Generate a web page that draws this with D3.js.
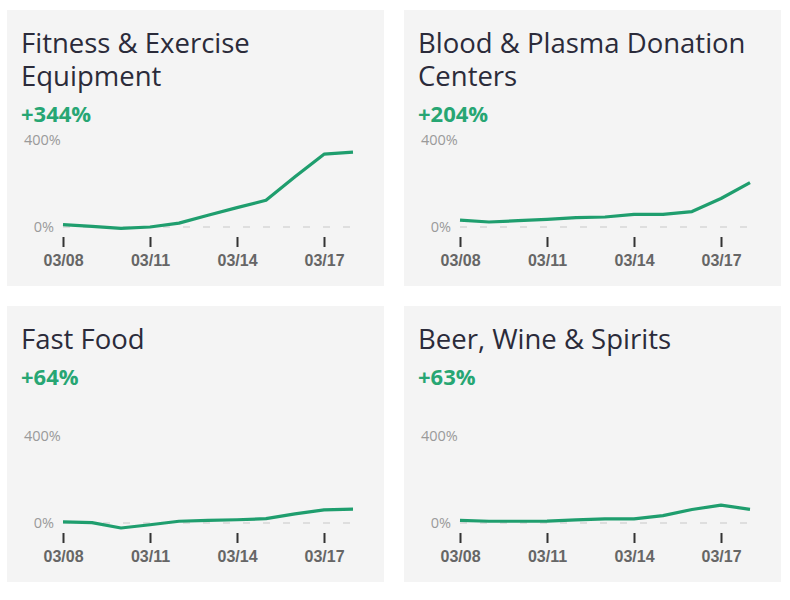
<!DOCTYPE html>
<html lang="en">
<head>
    <meta charset="utf-8">
    <title>Spending growth</title>
    <script src="https://d3js.org/d3.v7.min.js"></script>
</head>
<style type="text/css">
    body{
        margin: 0;
        background: #ffffff;
        font-family: "Open Sans", "Noto Sans", sans-serif;
    }
    .title{
        fill: #2b2b3a;
        font-size: 27.5px;
    }
    .change{
        fill: #27a673;
        font-size: 22px;
        font-weight: 700;
    }
    .ylab{
        fill: #9a9a9a;
        font-size: 14.5px;
    }
    .tick text{
        fill: #666666;
        font-size: 16px;
        font-weight: 700;
    }
</style>
<body>

<script>
    // categories and their titles (split in lines like the cards)
    var categories = ["Fitness & Exercise Equipment", "Blood & Plasma Donation Centers", "Fast Food", "Beer, Wine & Spirits"];
    var titleLines = [["Fitness & Exercise", "Equipment"], ["Blood & Plasma Donation", "Centers"], ["Fast Food"], ["Beer, Wine & Spirits"]];
    var changeLabels = ["+344%", "+204%", "+64%", "+63%"];

    // one value per day, 03/08 .. 03/18, in percent
    var days = ["2020-03-08", "2020-03-09", "2020-03-10", "2020-03-11", "2020-03-12", "2020-03-13",
                "2020-03-14", "2020-03-15", "2020-03-16", "2020-03-17", "2020-03-18"];
    var fitness = [11, 3, -6, 0, 18, 54, 89, 123, 231, 335, 344];
    var blood   = [32, 23, 29, 35, 43, 46, 58, 58, 71, 131, 204];
    var fastFood = [5, 2, -23, -8, 8, 12, 15, 20, 42, 60, 64];
    var beer    = [12, 8, 8, 9, 14, 19, 19, 34, 62, 82, 63];
    var series = [fitness, blood, fastFood, beer];

    var tickDays = ["2020-03-08", "2020-03-11", "2020-03-14", "2020-03-17"];
    var yTicks = [0, 400];

    var width = 790, height = 600;
    var cardW = 377, cardH = 276;
    var cardPos = [[7, 10], [404, 10], [7, 306], [404, 306]];

    var parse = d3.utcParse("%Y-%m-%d");
    var dates = days.map(parse);

    var svg = d3.select("body")
        .append("svg")
        .attr("width", width)
        .attr("height", height);

    // same scales for every card
    var x = d3.scaleUtc()
        .domain(d3.extent(dates))
        .range([56, 346]);
    var y = d3.scaleLinear()
        .domain([0, 400])
        .range([217, 130]);

    var line = d3.line()
        .x(function(d, i){ return x(dates[i]); })
        .y(function(d){ return y(d); });

    var card = svg.selectAll("g.card")
        .data(series)
        .enter()
        .append("g")
        .attr("class", "card")
        .attr("transform", function(d, i){
            return "translate(" + cardPos[i][0] + "," + cardPos[i][1] + ")";
        });

    card.append("rect")
        .attr("width", cardW)
        .attr("height", cardH)
        .attr("fill", "#f4f4f4");

    // title, one tspan per line
    card.append("text")
        .attr("class", "title")
        .attr("x", 14)
        .attr("y", 43)
        .selectAll("tspan")
        .data(function(d, i){ return titleLines[i]; })
        .enter()
        .append("tspan")
        .attr("x", 14)
        .attr("dy", function(d, j){ return j === 0 ? 0 : 33; })
        .text(function(d){ return d; });

    card.append("text")
        .attr("class", "change")
        .attr("x", 14)
        .attr("y", function(d, i){ return 43 + 33 * (titleLines[i].length - 1) + 36; })
        .text(function(d, i){ return changeLabels[i]; });

    // y labels: 400% at the top, 0% next to the baseline
    card.append("text")
        .attr("class", "ylab")
        .attr("x", 17)
        .attr("y", y(yTicks[1]))
        .attr("dy", ".35em")
        .text(yTicks[1] + "%");

    card.append("text")
        .attr("class", "ylab")
        .attr("x", 47)
        .attr("y", y(yTicks[0]))
        .attr("dy", ".35em")
        .attr("text-anchor", "end")
        .text(yTicks[0] + "%");

    // dashed zero line
    card.append("line")
        .attr("x1", x(dates[0]))
        .attr("x2", x(dates[dates.length - 1]))
        .attr("y1", y(0))
        .attr("y2", y(0))
        .attr("stroke", "#d6d6d6")
        .attr("stroke-width", 1.5)
        .attr("stroke-dasharray", "7,13");

    // x axis: short ticks and bold date labels
    card.append("g")
        .attr("transform", "translate(0,227)")
        .each(function(){
            var ax = d3.axisBottom(x)
                .tickValues(tickDays.map(parse))
                .tickFormat(d3.utcFormat("%m/%d"))
                .tickSize(10)
                .tickPadding(8);
            d3.select(this).call(ax);
        })
        .call(function(g){
            g.select(".domain").remove();
            g.selectAll(".tick line").attr("stroke", "#333333").attr("stroke-width", 2);
        });

    card.append("path")
        .attr("d", function(d){ return line(d); })
        .attr("fill", "none")
        .attr("stroke", "#1f9e6e")
        .attr("stroke-width", 3.2)
        .attr("stroke-linejoin", "round");
</script>
</body>
</html>
